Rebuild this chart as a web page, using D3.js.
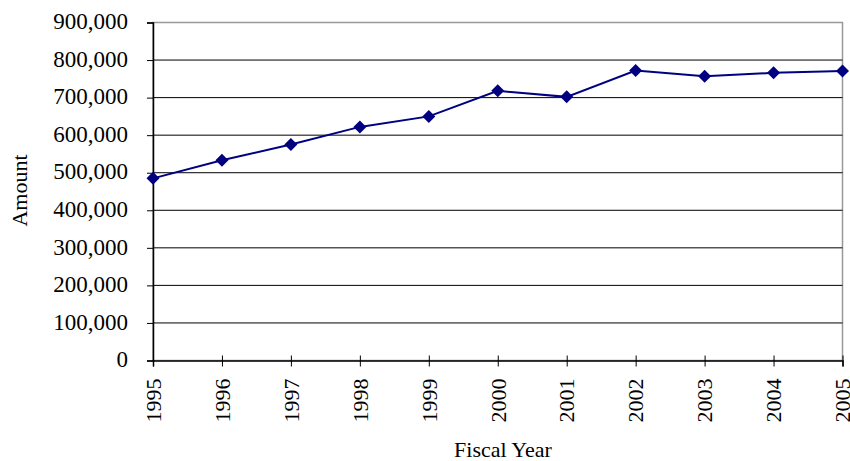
<!DOCTYPE html>
<html lang="en">
<head>
    <meta charset="UTF-8">
    <title>Amount by Fiscal Year</title>
    <script src="https://d3js.org/d3.v7.min.js"></script>
    <style>
        body { margin: 0; background: white; font-family: "Liberation Serif", "Times New Roman", serif; }
        svg text { fill: #000; }
    </style>
</head>
<body>
    <div id="chart"></div>
    <script>
        // Data
        const years = [1995, 1996, 1997, 1998, 1999, 2000, 2001, 2002, 2003, 2004, 2005];
        const amounts = [485000, 533000, 575000, 622000, 650000, 718000, 702000, 772000, 757000, 766000, 771000];
        const yTicks = [0, 100000, 200000, 300000, 400000, 500000, 600000, 700000, 800000, 900000];

        const width = 850, height = 461;
        const plotL = 153, plotR = 842.5, plotT = 22.5, plotB = 360.5;

        const svg = d3.select("#chart").append("svg")
            .attr("width", width)
            .attr("height", height);

        const x = d3.scalePoint().domain(years).range([plotL, plotR]);
        const y = d3.scaleLinear().domain([0, 900000]).range([plotB, plotT]);

        // plot area border (grey)
        svg.append("rect")
            .attr("x", plotL).attr("y", plotT)
            .attr("width", plotR - plotL).attr("height", plotB - plotT)
            .attr("fill", "none").attr("stroke", "#999").attr("stroke-width", 1.5);

        // gridlines
        svg.append("g")
            .selectAll("line")
            .data(yTicks.filter(d => d > 0 && d < 900000))
            .join("line")
            .attr("x1", plotL).attr("x2", plotR)
            .attr("y1", d => y(d)).attr("y2", d => y(d))
            .attr("stroke", "#000").attr("stroke-width", 1);

        // y axis
        const gy = svg.append("g")
            .attr("transform", `translate(${plotL},0)`)
            .call(d3.axisLeft(y).tickValues(yTicks).tickSize(6).tickPadding(19)
                .tickFormat(d3.format(",")));
        gy.select(".domain").attr("stroke", "#000").attr("stroke-width", 1.5);
        gy.selectAll(".tick line").attr("stroke", "#000");
        gy.selectAll("text")
            .attr("font-family", "Liberation Serif, serif")
            .attr("font-size", 23)
            .attr("dy", "0.27em");

        // x axis (cross ticks)
        const gx = svg.append("g")
            .attr("transform", `translate(0,${plotB})`)
            .call(d3.axisBottom(x).tickSize(6).tickPadding(0));
        gx.select(".domain").attr("stroke", "#000").attr("stroke-width", 1.5);
        gx.selectAll(".tick line").attr("stroke", "#000").attr("y1", -5).attr("y2", 6);
        gx.selectAll("text")
            .attr("font-family", "Liberation Serif, serif")
            .attr("font-size", 22)
            .attr("text-anchor", "end")
            .attr("transform", "translate(0,18) rotate(-90)")
            .attr("x", 0).attr("y", 0)
            .attr("dy", "0.33em");

        // line
        const pts = years.map((yr, i) => [yr, amounts[i]]);
        svg.append("path")
            .datum(pts)
            .attr("fill", "none")
            .attr("stroke", "#000080")
            .attr("stroke-width", 2)
            .attr("d", d3.line().x(d => x(d[0])).y(d => y(d[1])));

        // diamond markers
        const s = 6.5;
        svg.append("g")
            .selectAll("path")
            .data(pts)
            .join("path")
            .attr("d", d => `M${x(d[0])},${y(d[1]) - s}L${x(d[0]) + s},${y(d[1])}L${x(d[0])},${y(d[1]) + s}L${x(d[0]) - s},${y(d[1])}Z`)
            .attr("fill", "#000080");

        // axis titles
        svg.append("text")
            .attr("transform", "translate(27,190.5) rotate(-90)")
            .attr("text-anchor", "middle")
            .attr("font-size", 22)
            .text("Amount");

        svg.append("text")
            .attr("x", 503).attr("y", 457)
            .attr("text-anchor", "middle")
            .attr("font-size", 22)
            .text("Fiscal Year");
    </script>
</body>
</html>
